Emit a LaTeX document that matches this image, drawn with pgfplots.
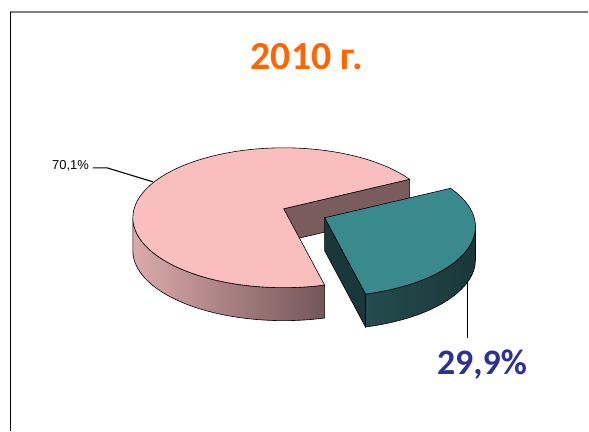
\documentclass[border=0pt]{standalone}
\usepackage{fontspec}
\setmainfont{Liberation Sans}
\newfontfamily\carlito{Carlito}
\usepackage{pgfplots}
\pgfplotsset{compat=1.18}
\usetikzlibrary{calc}
\definecolor{pinkT}{RGB}{250,190,190}
\definecolor{pinkL}{RGB}{220,170,170}
\definecolor{pinkR}{RGB}{116,86,88}
\definecolor{brownF}{RGB}{122,92,92}
\definecolor{tealT}{RGB}{58,137,140}
\definecolor{tealD}{RGB}{26,55,57}
\definecolor{tealL}{RGB}{36,76,78}
\definecolor{titleOr}{RGB}{255,102,0}
\definecolor{navyL}{RGB}{46,49,146}
\definecolor{frameG}{RGB}{128,128,128}
% data (percent)
\def\valPink{70.1}
\def\valTeal{29.9}
\pgfmathsetmacro{\tealSpan}{\valTeal*3.6}
\pgfmathsetmacro{\aS}{-20.45+\tealSpan/2}
\pgfmathsetmacro{\aE}{\aS+\valPink*3.6}
\pgfmathsetmacro{\aT}{\aS+360}
\begin{document}
\begin{tikzpicture}
\begin{axis}[width=589bp,height=431bp,scale only axis,
  xmin=0,xmax=589,ymin=0,ymax=431,hide axis,clip=false]
\path (axis cs:0,0) (axis cs:589,431);
% frame
\draw[frameG,line width=1.3bp] (axis cs:10,419) -- (axis cs:589,419);
\draw[black,line width=1bp] (axis cs:10.5,419) -- (axis cs:10.5,0);
% title
\node[anchor=base,inner sep=0pt,text=titleOr] at (axis cs:307.5,361)
  {\carlito\bfseries\fontsize{40}{44}\selectfont 2010 г.};
% pink slice (70,1%)
\coordinate (O) at (axis cs:284,213);
\coordinate (A) at (axis cs:284,222);
\path[draw=black,line width=0.6bp,left color=pinkL,right color=pinkR]
  ([shift={(180:151bp and 70bp)}]O) arc[start angle=180,end angle=\aE,x radius=151bp,y radius=70bp]
  -- ++(0,-33bp) arc[start angle=\aE,end angle=180,x radius=151bp,y radius=70bp] -- cycle;
\path[draw=black,line width=0.6bp,fill=brownF]
  (A) -- ([shift={(\aS:151bp and 70bp)}]O) -- ++(0,-33bp) -- ([yshift=-33bp]A) -- cycle;
\path[draw=black,line width=0.6bp,fill=pinkT]
  (A) -- ([shift={(\aS:151bp and 70bp)}]O) arc[start angle=\aS,end angle=\aE,x radius=151bp,y radius=70bp] -- cycle;
% teal slice (29,9%), exploded
\coordinate (O2) at (axis cs:325,204);
\coordinate (A2) at (axis cs:325,213);
\path[draw=black,line width=0.6bp,left color=tealL,right color=tealD]
  ([shift={(\aE:151bp and 70bp)}]O2) arc[start angle=\aE,end angle=360,x radius=151bp,y radius=70bp]
  -- ++(0,-33bp) arc[start angle=360,end angle=\aE,x radius=151bp,y radius=70bp] -- cycle;
\path[draw=black,line width=0.6bp,fill=tealD]
  (A2) -- ([shift={(\aE:151bp and 70bp)}]O2) -- ++(0,-33bp) -- ([yshift=-33bp]A2) -- cycle;
\path[draw=black,line width=0.6bp,fill=tealT]
  (A2) -- ([shift={(\aE:151bp and 70bp)}]O2) arc[start angle=\aE,end angle=\aT,x radius=151bp,y radius=70bp] -- cycle;
% labels
\draw[black,line width=1.1bp] (axis cs:93,263) -- (axis cs:107,263) -- (axis cs:153,249);
\node[anchor=base west,inner sep=0pt] at (axis cs:52,261)
  {\fontsize{13}{15}\selectfont 70,1\%};
\draw[black,line width=1.1bp] (axis cs:468,149) -- (axis cs:468,93);
\node[anchor=base,inner sep=0pt,text=navyL] at (axis cs:482.5,56)
  {\carlito\bfseries\fontsize{36}{40}\selectfont 29,9\%};
\end{axis}
\end{tikzpicture}
\end{document}
